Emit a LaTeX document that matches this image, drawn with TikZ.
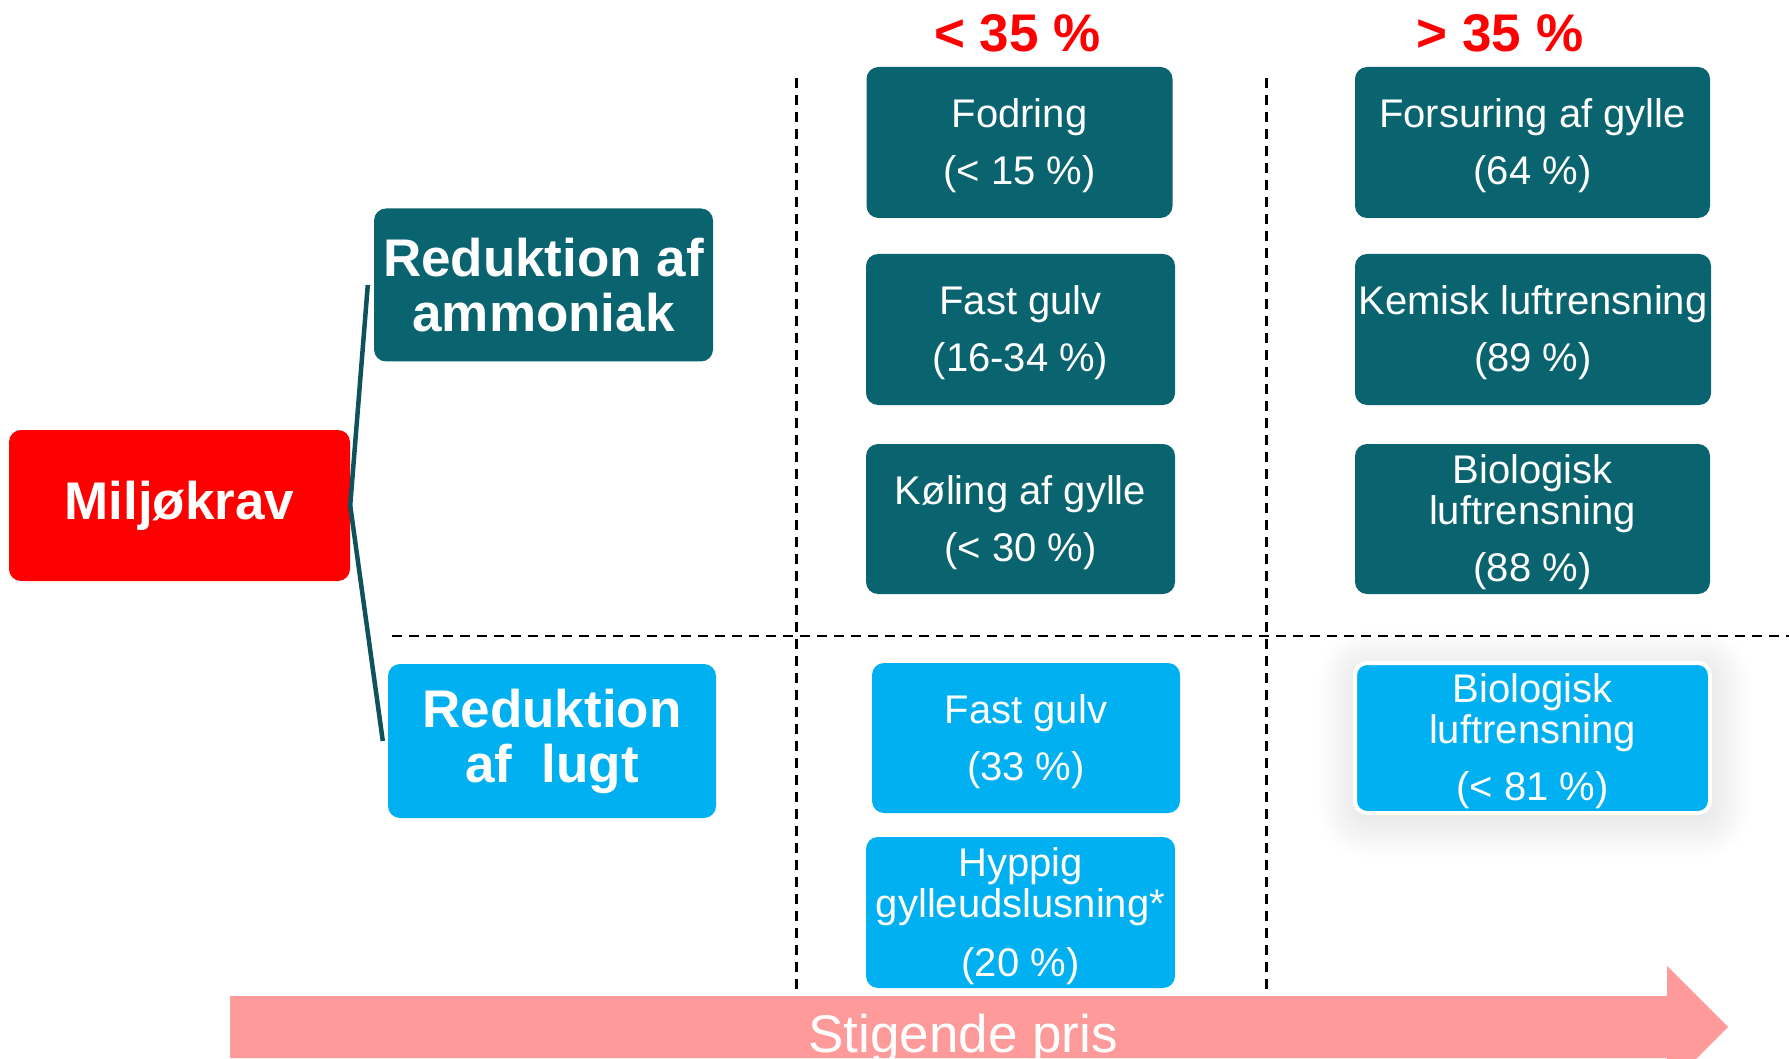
\documentclass[tikz,border=0pt]{standalone}
\usepackage{fontspec}
\setmainfont{Liberation Sans}
\usetikzlibrary{shadows.blur}
\definecolor{tealbox}{HTML}{09646F}
\definecolor{bluebox}{HTML}{00B0F0}
\definecolor{pinkarrow}{HTML}{FE9A9A}
\definecolor{connteal}{HTML}{0D525D}
\definecolor{redtxt}{HTML}{FF0000}
\tikzset{
  box/.style={rounded corners=12pt, text=white, align=center, inner sep=0pt,
    text depth=1pt, font=\fontsize{40}{41}\selectfont},
  dbox/.style={box, fill=tealbox},
  lbox/.style={box, fill=bluebox},
  hbox/.style={rounded corners=12pt, text=white, align=center, inner sep=0pt,
    font=\bfseries\fontsize{53}{55}\selectfont},
  pct/.style={text=redtxt, font=\bfseries\fontsize{53}{55}\selectfont, anchor=base, inner sep=0pt},
  sep/.style={dashed, dash pattern=on 10pt off 7pt, line width=2.3pt, black},
  conn/.style={draw=connteal, line width=4.5pt, line join=round},
}
\begin{document}
\begin{tikzpicture}[x=1pt, y=-1pt]
\useasboundingbox (0,0) rectangle (1789,1059);
\clip (0,0) rectangle (1789,1059);

% separators
\draw[sep] (796.5,78) -- (796.5,996);
\draw[sep] (1266.5,78) -- (1266.5,996);
\draw[sep] (392,636) -- (1789,636);

% price arrow
\fill[pinkarrow] (230,996) -- (1667,996) -- (1667,966) -- (1728,1027) -- (1667,1088)
  -- (1667,1058) -- (230,1058) -- cycle;
\node[anchor=base, inner sep=0pt, text=white, font=\fontsize{53}{55}\selectfont]
  (pris) at (963,1052) {Stigende pris};

% headers
\node[pct] (lt) at (1017.5,52) {< 35 \%};
\node[pct] (gt) at (1500,52) {> 35 \%};

% left hierarchy
\node[hbox, fill=redtxt, minimum width=341pt, minimum height=151pt] (milj) at (179.5,505.5) {Miljøkrav};
\node[hbox, fill=tealbox, minimum width=339pt, minimum height=153pt] (ammo) at (543.5,285) {Reduktion af\\ammoniak};
\node[hbox, fill=bluebox, minimum width=328pt, minimum height=154pt] (lugt) at (552,741) {Reduktion\\af~ lugt};
\draw[conn] ([xshift=-6pt]ammo.west) -- (milj.east) -- ([xshift=-5pt]lugt.west);

% column 1 (< 35 %)
\node[dbox, minimum width=306pt, minimum height=151pt] (fod) at (1019.5,142.5) {Fodring\\[16pt](< 15 \%)};
\node[dbox, minimum width=309pt, minimum height=151pt] (fg1) at (1020.5,329.5) {Fast gulv\\[16pt](16-34 \%)};
\node[dbox, minimum width=309pt, minimum height=150pt] (kol) at (1020.5,519) {Køling af gylle\\[16pt](< 30 \%)};
\node[lbox, minimum width=308pt, minimum height=150pt] (fg2) at (1026,738) {Fast gulv\\[16pt](33 \%)};
\node[lbox, minimum width=309pt, minimum height=151pt] (hyp) at (1020.5,912.5) {Hyppig\\gylleudslusning*\\[18pt](20 \%)};

% column 2 (> 35 %)
\node[dbox, minimum width=355pt, minimum height=151pt] (fors) at (1532.5,142.5) {Forsuring af gylle\\[16pt](64 \%)};
\node[dbox, minimum width=356pt, minimum height=151pt] (kem) at (1533,329.5) {Kemisk luftrensning\\[16pt](89 \%)};
\node[dbox, minimum width=355pt, minimum height=150pt] (bio1) at (1532.5,519) {Biologisk\\luftrensning\\[16pt](88 \%)};
\node[lbox, draw=white, line width=4pt, minimum width=355pt, minimum height=150pt,
  blur shadow={shadow xshift=2pt, shadow yshift=-6pt, shadow blur radius=40pt,
  shadow opacity=16, shadow blur steps=16}] (bio2) at (1532.5,738) {Biologisk\\luftrensning\\[16pt](< 81 \%)};
\end{tikzpicture}
\end{document}
